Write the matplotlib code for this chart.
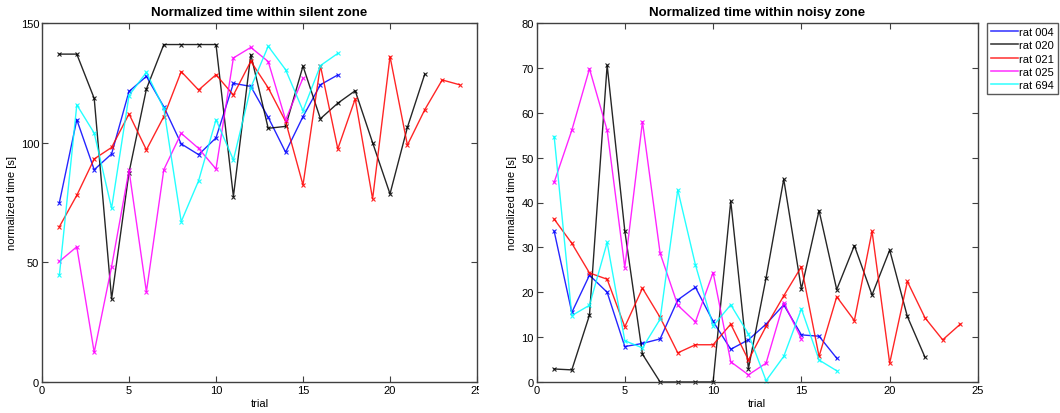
import matplotlib
matplotlib.use("Agg")
import matplotlib.pyplot as plt
from matplotlib.lines import Line2D
from matplotlib.transforms import Bbox

plt.rcParams["font.family"] = ["Liberation Sans", "DejaVu Sans"]

rats = ["rat 004", "rat 020", "rat 021", "rat 025", "rat 694"]
colors = ["#0000ff", "#000000", "#ff0000", "#ff00ff", "#00ffff"]

# Normalized time within the silent zone, per trial
silent = {
    "rat 004": [75, 109.6, 88.7, 95.3, 121.4, 127.7, 115, 99.5, 95, 102, 124.8,
                123.5, 110.6, 96, 110.9, 124.2, 128.3],
    "rat 020": [137, 137, 118.5, 34.7, 87.5, 122.4, 141, 141, 141, 141, 77.5,
                136.8, 106, 106.8, 132, 110, 116.5, 121.7, 100, 78.6, 106.4, 128.7],
    "rat 021": [64.9, 78, 93.2, 98, 112, 97, 110.9, 129.7, 122, 128.4, 119.9,
                134, 122.9, 108.9, 82.3, 132.2, 97.4, 118.3, 76.5, 136, 99,
                113.8, 126.2, 124.2],
    "rat 025": [50.4, 56.5, 12.4, 48.2, 88.5, 37.7, 88.7, 103.9, 97.6, 89,
                135.4, 139.8, 133.9, 109.5, 127],
    "rat 694": [44.7, 115.8, 104, 72.6, 119.7, 129.4, 114.3, 67, 84.1, 109.6,
                92.8, 123, 140.3, 130.5, 113.4, 132.2, 137.3],
}

# Normalized time within the noisy zone, per trial
noisy = {
    "rat 004": [33.6, 15.5, 23.8, 20, 7.9, 8.6, 9.6, 18.3, 21.1, 13.5, 7.3,
                9.4, 12.9, 17.2, 10.5, 10.2, 5.3],
    "rat 020": [2.9, 2.7, 14.9, 70.6, 33.7, 6.2, 0, 0, 0, 0, 40.3, 3, 23.2,
                45.2, 20.7, 38.2, 20.6, 30.4, 19.4, 29.4, 14.6, 5.5],
    "rat 021": [36.3, 30.9, 24.3, 22.9, 12.3, 20.9, 14.4, 6.5, 8.3, 8.3, 12.9,
                4.9, 12.4, 19.2, 25.7, 5.7, 19, 13.7, 33.6, 4.2, 22.4, 14.3,
                9.4, 12.9],
    "rat 025": [44.5, 56.1, 69.8, 56.1, 25.5, 58, 28.7, 17.1, 13.4, 24.4, 4.5,
                1.6, 4.2, 17.7, 9.6],
    "rat 694": [54.7, 14.8, 17.1, 31.1, 9.2, 7.6, 14, 42.8, 26.1, 12.5, 17.2,
                10.7, 0.3, 5.7, 16.3, 4.9, 2.5],
}

W, H = 1060, 414
fig = plt.figure(figsize=(W / 100, H / 100), dpi=100)
ax1 = fig.add_axes([42 / W, 1 - 383 / H, 435 / W, 359 / H])
ax2 = fig.add_axes([536.5 / W, 1 - 383 / H, 441.5 / W, 359 / H])

spine_color = "#404040"
fs = 8


def style(ax, ylim, yticks, title):
    ax.set_xlim(0, 25)
    ax.set_ylim(*ylim)
    ax.set_xticks(range(0, 26, 5))
    ax.set_yticks(yticks)
    ax.tick_params(direction="in", top=True, right=True, length=4,
                   width=0.8, color=spine_color, labelsize=fs, pad=2)
    for s in ax.spines.values():
        s.set_color(spine_color)
        s.set_linewidth(1.0)
    ax.set_title(title, fontsize=9.5, fontweight="bold", pad=6)
    ax.set_xlabel("trial", fontsize=fs, labelpad=2)
    ax.set_ylabel("normalized time [s]", fontsize=fs, labelpad=3)


for ax, data in ((ax1, silent), (ax2, noisy)):
    for rat, c in zip(rats, colors):
        vals = data[rat]
        trials = list(range(1, len(vals) + 1))
        ax.plot(trials, vals, color=c, lw=1.0, marker="x", ms=3.5,
                mew=0.8, alpha=0.85, clip_on=False)

style(ax1, (0, 150), [0, 50, 100, 150], "Normalized time within silent zone")
style(ax2, (0, 80), range(0, 81, 10), "Normalized time within noisy zone")

# the last x tick label of the left panel is cut at the panel's right edge
fig.canvas.draw()
clip = Bbox.from_extents(0, 0, 479, H)
for lbl in ax1.get_xticklabels():
    if lbl.get_text() in ("25", "$\\mathdefault{25}$"):
        lbl.set_clip_box(clip)
        lbl.set_clip_on(True)

handles = [Line2D([], [], color=c, lw=1.2, alpha=0.75) for c in colors]
leg = fig.legend(handles, rats, loc="upper left",
                 bbox_to_anchor=(987 / W, 1 - 24 / H), fontsize=fs,
                 frameon=True, fancybox=False, handlelength=2.4,
                 handletextpad=0.15, borderpad=0.35, labelspacing=0.3,
                 borderaxespad=0)
leg.get_frame().set_edgecolor("#303030")
leg.get_frame().set_linewidth(1.0)

fig.savefig("out.png", dpi=100)
